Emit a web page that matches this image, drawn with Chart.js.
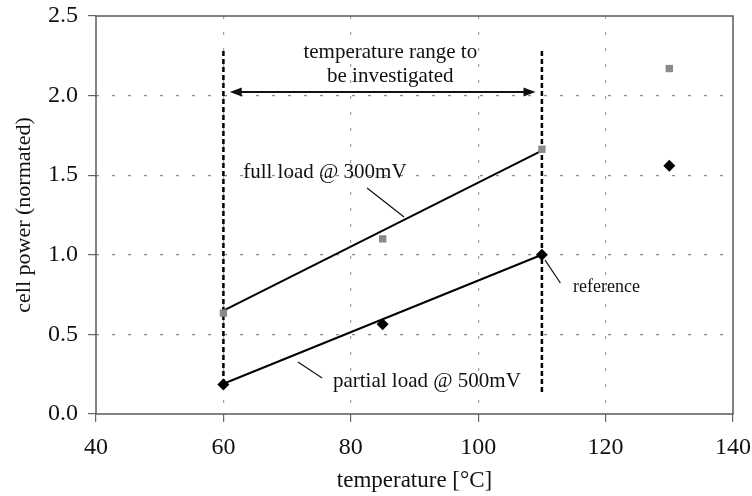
<!DOCTYPE html>
<html>
<head>
<meta charset="utf-8">
<script src="https://cdn.jsdelivr.net/npm/chart.js@4/dist/chart.umd.min.js"></script>
<style>
  html, body { margin: 0; padding: 0; background: #fff; }
  #wrap { width: 752px; height: 496px; }
</style>
</head>
<body>
<div id="wrap"><canvas id="chart" width="752" height="496"></canvas></div>
<script>
// measured points
const temps = [60, 85, 110, 130];
const fullLoad = [0.634, 1.10, 1.663, 2.17];
const partialLoad = [0.186, 0.563, 1.0, 1.56];

// fitted lines over the investigated range
const fitX = [60, 110];
const fullFit = [0.65, 1.655];
const partialFit = [0.19, 1.0];

// vertical range boundaries
const rangeLeft = [2.28, 0.21];
const rangeRight = [2.28, 0.12];
const arrowX = [61, 109];
const arrowY = 2.023;

const xTicks = [40, 60, 80, 100, 120, 140];
const yTicks = [0, 0.5, 1.0, 1.5, 2.0, 2.5];

const serif = "'Liberation Serif', 'DejaVu Serif', serif";

function pts(xs, ys) {
    return xs.map((x, i) => ({ x: x, y: ys[i] }));
}

// text notes, placed in data units
const notes = [
    { text: "temperature range to", x: 86.2, y: 2.268, align: "center", size: 21 },
    { text: "be investigated", x: 86.2, y: 2.117, align: "center", size: 21 },
    { text: "full load @ 300mV", x: 63.1, y: 1.514, align: "left", size: 21 },
    { text: "partial load @ 500mV", x: 77.2, y: 0.207, align: "left", size: 21 },
    { text: "reference", x: 114.9, y: 0.798, align: "left", size: 18 }
];
const leaders = [
    [82.55, 1.42, 88.36, 1.237],
    [71.7, 0.327, 75.5, 0.226],
    [110.5, 0.967, 112.9, 0.823]
];

const extras = {
    id: "extras",
    beforeDatasetsDraw(chart) {
        const a = chart.chartArea;
        const c = chart.ctx;
        c.save();
        c.strokeStyle = "#5a5a5a";
        c.lineWidth = 1.5;
        c.strokeRect(a.left, a.top, a.right - a.left, a.bottom - a.top);
        c.restore();
    },
    afterDatasetsDraw(chart) {
        const c = chart.ctx;
        const sx = chart.scales.x, sy = chart.scales.y;
        c.save();
        // double arrow
        const x1 = sx.getPixelForValue(arrowX[0]);
        const x2 = sx.getPixelForValue(arrowX[1]);
        const y = sy.getPixelForValue(arrowY);
        c.strokeStyle = "#111";
        c.fillStyle = "#111";
        c.lineWidth = 2;
        c.beginPath();
        c.moveTo(x1 + 8, y);
        c.lineTo(x2 - 8, y);
        c.stroke();
        c.beginPath();
        c.moveTo(x1, y); c.lineTo(x1 + 12, y - 4.5); c.lineTo(x1 + 12, y + 4.5); c.closePath();
        c.fill();
        c.beginPath();
        c.moveTo(x2, y); c.lineTo(x2 - 12, y - 4.5); c.lineTo(x2 - 12, y + 4.5); c.closePath();
        c.fill();
        // leader lines
        c.lineWidth = 1.2;
        leaders.forEach(l => {
            c.beginPath();
            c.moveTo(sx.getPixelForValue(l[0]), sy.getPixelForValue(l[1]));
            c.lineTo(sx.getPixelForValue(l[2]), sy.getPixelForValue(l[3]));
            c.stroke();
        });
        // labels
        c.fillStyle = "#111";
        c.textBaseline = "middle";
        notes.forEach(n => {
            c.font = n.size + "px " + serif;
            c.textAlign = n.align;
            c.fillText(n.text, sx.getPixelForValue(n.x), sy.getPixelForValue(n.y));
        });
        c.restore();
    }
};

const ctx = document.getElementById("chart");
new Chart(ctx, {
    type: "scatter",
    data: {
        datasets: [
            {
                label: "partial load",
                data: pts(temps, partialLoad),
                pointStyle: "rectRot",
                pointRadius: 6,
                backgroundColor: "#000",
                borderWidth: 0
            },
            {
                label: "full load",
                data: pts(temps, fullLoad),
                pointStyle: "rect",
                pointRadius: 5.2,
                backgroundColor: "#8a8a8a",
                borderWidth: 0
            },
            {
                data: pts(fitX, fullFit),
                showLine: true,
                pointRadius: 0,
                borderColor: "#000",
                borderWidth: 2
            },
            {
                data: pts(fitX, partialFit),
                showLine: true,
                pointRadius: 0,
                borderColor: "#000",
                borderWidth: 2
            },
            {
                data: pts([fitX[0], fitX[0]], rangeLeft),
                showLine: true,
                pointRadius: 0,
                borderColor: "#000",
                borderWidth: 2.5,
                borderDash: [5, 3]
            },
            {
                data: pts([fitX[1], fitX[1]], rangeRight),
                showLine: true,
                pointRadius: 0,
                borderColor: "#000",
                borderWidth: 2.5,
                borderDash: [5, 3]
            }
        ]
    },
    options: {
        responsive: false,
        animation: false,
        layout: { padding: { left: 0, top: 16, right: 19, bottom: 0 } },
        plugins: {
            legend: { display: false },
            tooltip: { enabled: false }
        },
        scales: {
            x: {
                type: "linear",
                min: 40,
                max: 140,
                afterFit: s => { s.height = 82; s.paddingLeft = 0; s.paddingRight = 0; },
                afterBuildTicks: s => { s.ticks = xTicks.map(v => ({ value: v })); },
                ticks: {
                    color: "#111",
                    font: { family: serif, size: 24 },
                    padding: 11,
                    maxRotation: 0
                },
                grid: {
                    color: c => (c.tick && (c.tick.value === 40 || c.tick.value === 140)) ? "rgba(0,0,0,0)" : "#a0a0a0",
                    lineWidth: 1.2,
                    tickColor: "#666",
                    tickLength: 8,
                    tickBorderDash: []
                },
                border: { display: false, dash: [3, 13] },
                title: {
                    display: true,
                    text: "temperature [°C]",
                    color: "#111",
                    font: { family: serif, size: 23 },
                    padding: { top: 0, bottom: 1 }
                }
            },
            y: {
                type: "linear",
                min: 0,
                max: 2.5,
                afterFit: s => { s.width = 96; s.paddingTop = 0; s.paddingBottom = 0; },
                afterBuildTicks: s => { s.ticks = yTicks.map(v => ({ value: v })); },
                ticks: {
                    color: "#111",
                    font: { family: serif, size: 24 },
                    padding: 10,
                    callback: v => v.toFixed(1)
                },
                grid: {
                    color: c => (c.tick && (c.tick.value === 0 || c.tick.value === 2.5)) ? "rgba(0,0,0,0)" : "#8a8a8a",
                    lineWidth: 1.2,
                    tickColor: "#666",
                    tickLength: 8,
                    tickBorderDash: []
                },
                border: { display: false, dash: [3, 13] },
                title: {
                    display: true,
                    text: "cell power (normated)",
                    color: "#111",
                    font: { family: serif, size: 22 },
                    padding: { top: 11, bottom: 0 }
                }
            }
        }
    },
    plugins: [extras]
});
</script>
</body>
</html>
